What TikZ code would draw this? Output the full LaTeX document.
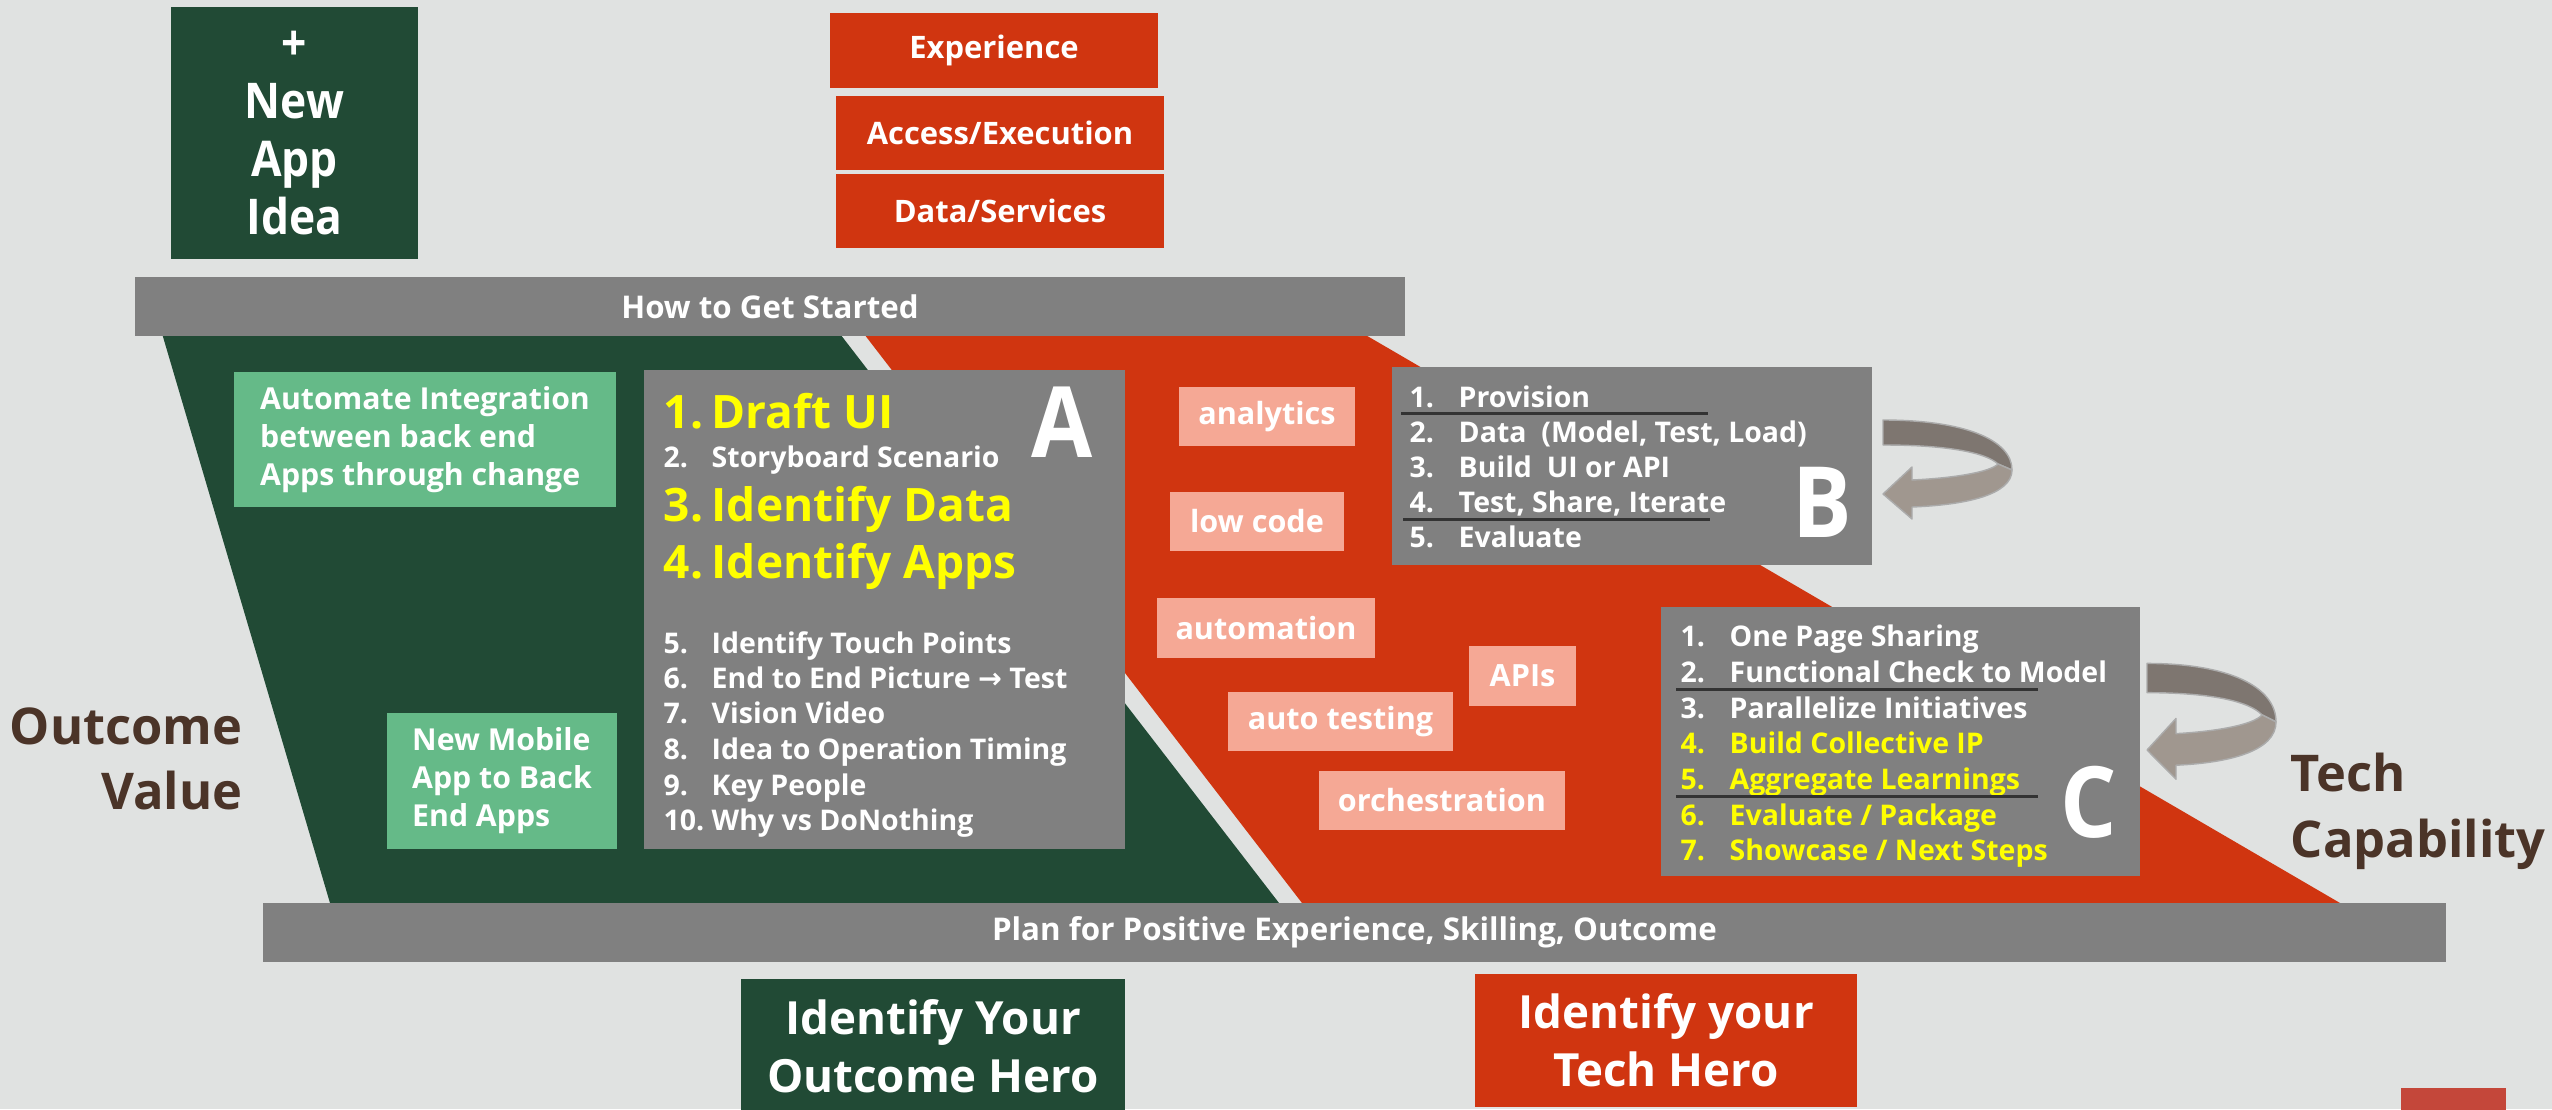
\documentclass[tikz,border=0pt]{standalone}
\usepackage{fontspec}
\setmainfont{Open Sans}
\newfontfamily\narrowfont{Open Sans}[FakeStretch=0.9]
\newfontfamily\arrowfont{DejaVu Sans}
\usetikzlibrary{positioning}

\definecolor{bgc}{HTML}{E0E2E1}
\definecolor{dkgreen}{HTML}{214A35}
\definecolor{orared}{HTML}{D03510}
\definecolor{boxgrey}{HTML}{808080}
\definecolor{ltgreen}{HTML}{65BA88}
\definecolor{salmon}{HTML}{F5A895}
\definecolor{hiyellow}{HTML}{FFFF00}
\definecolor{txtbrown}{HTML}{4B3428}
\definecolor{sqred}{HTML}{C4473A}
\definecolor{arrdark}{HTML}{7E7670}
\definecolor{arrlight}{HTML}{A0978F}
\definecolor{arredge}{HTML}{ABABAB}

\newcommand{\fsz}[2]{\fontsize{#1}{#2}\selectfont\bfseries}

\begin{document}
\begin{tikzpicture}[x=0.01cm,y=-0.01cm,
  blk/.style={fill=#1,text=white,inner sep=0pt,align=center},
  bar/.style={fill=boxgrey,text=white,inner sep=0pt,font=\fsz{8.9}{10}},
  tag/.style={fill=salmon,text=white,inner sep=0pt,font=\fsz{8.7}{10},minimum height=0.59cm},
  item/.style={anchor=base west,inner sep=0pt,text=white,font=\fsz{8.1}{10}},
  big/.style={anchor=base west,inner sep=0pt,text=hiyellow,font=\fsz{13.1}{16}},
  letter/.style={anchor=base west,inner sep=0pt,text=white,font=\narrowfont\fsz{28}{30}},
  side/.style={inner sep=0pt,text=txtbrown,font=\fsz{14.4}{18}},
  sepline/.style={draw=black!80,line width=0.03cm},
  loop/.style={fill=#1,draw=arredge,line width=0.4pt,line join=round}]

  \clip (0,0) rectangle (2552,1109);
  \fill[bgc] (0,0) rectangle (2552,1109);

  % the two halves
  \fill[dkgreen] (161,330) -- (837,330) -- (1279,903) -- (330,903) -- cycle;
  \fill[orared] (861,330) -- (1357,330) -- (2340,903) -- (1302,903) -- cycle;

  % top boxes
  \node[blk=dkgreen,minimum width=2.47cm,minimum height=2.52cm,font=\narrowfont\fsz{14}{16.5}] (idea) at (294.5,133) {+\\New\\App\\Idea};
  \node[blk=orared,minimum width=3.28cm,minimum height=0.75cm,font=\fsz{8.8}{11}] (exper) at (994,50.5) {Experience};
  \node[blk=orared,minimum width=3.28cm,minimum height=0.74cm,font=\fsz{8.8}{11}] (access) at (1000,133) {Access/Execution};
  \node[blk=orared,minimum width=3.28cm,minimum height=0.74cm,font=\fsz{8.8}{11}] (datasvc) at (1000,211) {Data/Services};

  % bars
  \node[bar,minimum width=12.70cm,minimum height=0.59cm] (start) at (770,306.5) {How to Get Started};
  \node[bar,minimum width=21.81cm,minimum height=0.59cm] (plan) at (1354.5,932.5) {Plan for Positive Experience, Skilling, Outcome};

  % outcome side
  \node[blk=ltgreen,align=left,minimum width=3.82cm,minimum height=1.35cm,font=\fsz{8.6}{10.8}] (integ) at (425,439.5) {Automate Integration\\between back end\\Apps through change};
  \node[blk=ltgreen,align=left,minimum width=2.30cm,minimum height=1.36cm,font=\fsz{8.6}{10.8}] (mobile) at (502,781) {New Mobile\\App to Back\\End Apps};

  % box A
  \node[blk=boxgrey,minimum width=4.81cm,minimum height=4.79cm] (boxA) at (884.5,609.5) {};
  \node[letter] (letA) at (1031,457) {A};
  \node[big] (an1) at (663,428) {1.};
  \node[big] (a1) at (711,428) {Draft UI};
  \node[item] (an2) at (663,467) {2.};
  \node[item] (a2) at (711,467) {Storyboard Scenario};
  \node[big] (an3) at (663,521) {3.};
  \node[big] (a3) at (711,521) {Identify Data};
  \node[big] (an4) at (663,578) {4.};
  \node[big] (a4) at (711,578) {Identify Apps};
  \foreach \n/\t/\y in {5/Identify Touch Points/653,
                        6/{End to End Picture {\arrowfont\bfseries →} Test}/688,
                        7/Vision Video/723, 8/Idea to Operation Timing/759,
                        9/Key People/795, 10/Why vs DoNothing/830}
    {\node[item] (an\n) at (663,\y) {\n.};
     \node[item] (a\n) at (711,\y) {\t};}

  % tech side tags
  \node[tag,minimum width=1.76cm] (analytics) at (1267,416.5) {analytics};
  \node[tag,minimum width=1.74cm] (lowcode) at (1257,521.5) {low code};
  \node[tag,minimum width=2.18cm] (automation) at (1266,628) {automation};
  \node[tag,minimum width=1.07cm] (apis) at (1522.5,676) {APIs};
  \node[tag,minimum width=2.25cm] (autotest) at (1340.5,721.5) {auto testing};
  \node[tag,minimum width=2.46cm] (orch) at (1442,800.5) {orchestration};

  % box B
  \node[blk=boxgrey,minimum width=4.80cm,minimum height=1.98cm] (boxB) at (1632,466) {};
  \node[letter] (letB) at (1792,537) {B};
  \foreach \n/\t/\y in {1/Provision/407, 2/{Data~ (Model, Test, Load)}/442,
                        3/{Build~ UI or API}/477, 4/{Test, Share, Iterate}/512,
                        5/Evaluate/547}
    {\node[item] (bn\n) at (1409,\y) {\n.};
     \node[item] (b\n) at (1458,\y) {\t};}
  \draw[sepline] (1401,413) -- (1708,413);
  \draw[sepline] (1403,519) -- (1710,519);

  % box C
  \node[blk=boxgrey,minimum width=4.79cm,minimum height=2.69cm] (boxC) at (1900.5,741.5) {};
  \node[letter] (letC) at (2060,837) {C};
  \foreach \n/\t/\c/\y in {1/One Page Sharing/white/646,
                           2/Functional Check to Model/white/682,
                           3/Parallelize Initiatives/white/718,
                           4/Build Collective IP/hiyellow/753,
                           5/Aggregate Learnings/hiyellow/789,
                           6/{Evaluate / Package}/hiyellow/825,
                           7/{Showcase / Next Steps}/hiyellow/860}
    {\node[item,text=\c] (cn\n) at (1680,\y) {\n.};
     \node[item,text=\c] (c\n) at (1729,\y) {\t};}
  \draw[sepline] (1676,689) -- (2038,689);
  \draw[sepline] (1676,796) -- (2038,796);

  % loop arrows, placed at their tips
  \foreach \tx/\ty/\ys in {1883/494/1, 2147/750/1.17}
  {\begin{scope}[shift={(\tx,\ty)},yscale=\ys]
    \path[loop=arrdark] (0,-74) .. controls (82,-74) and (129,-54) .. (129,-24)
      -- (115,-30) .. controls (102,-42) and (62,-49) .. (0,-49) -- cycle;
    \path[loop=arrlight] (129,-24) .. controls (129,1) and (82,11) .. (29,13)
      -- (29,25) -- (0,0) -- (29,-27) -- (29,-14)
      .. controls (72,-16) and (107,-22) .. (115,-30) -- cycle;
  \end{scope}}

  % side labels
  \node[side,anchor=base east] (outc1) at (243,744) {Outcome};
  \node[side,anchor=base east] (outc2) at (243,809) {Value};
  \node[side,anchor=base west] (tech1) at (2290,791) {Tech};
  \node[side,anchor=base west] (tech2) at (2290,857) {Capability};

  % heroes
  \node[blk=dkgreen,minimum width=3.84cm,minimum height=1.35cm,font=\fsz{13}{16.5}] (ohero) at (933,1046.5) {Identify Your\\Outcome Hero};
  \node[blk=orared,minimum width=3.82cm,minimum height=1.33cm,font=\fsz{13}{16.5}] (thero) at (1666,1040.5) {Identify your\\Tech Hero};
  \fill[sqred] (2401,1088) rectangle (2506,1115);
\end{tikzpicture}
\end{document}
